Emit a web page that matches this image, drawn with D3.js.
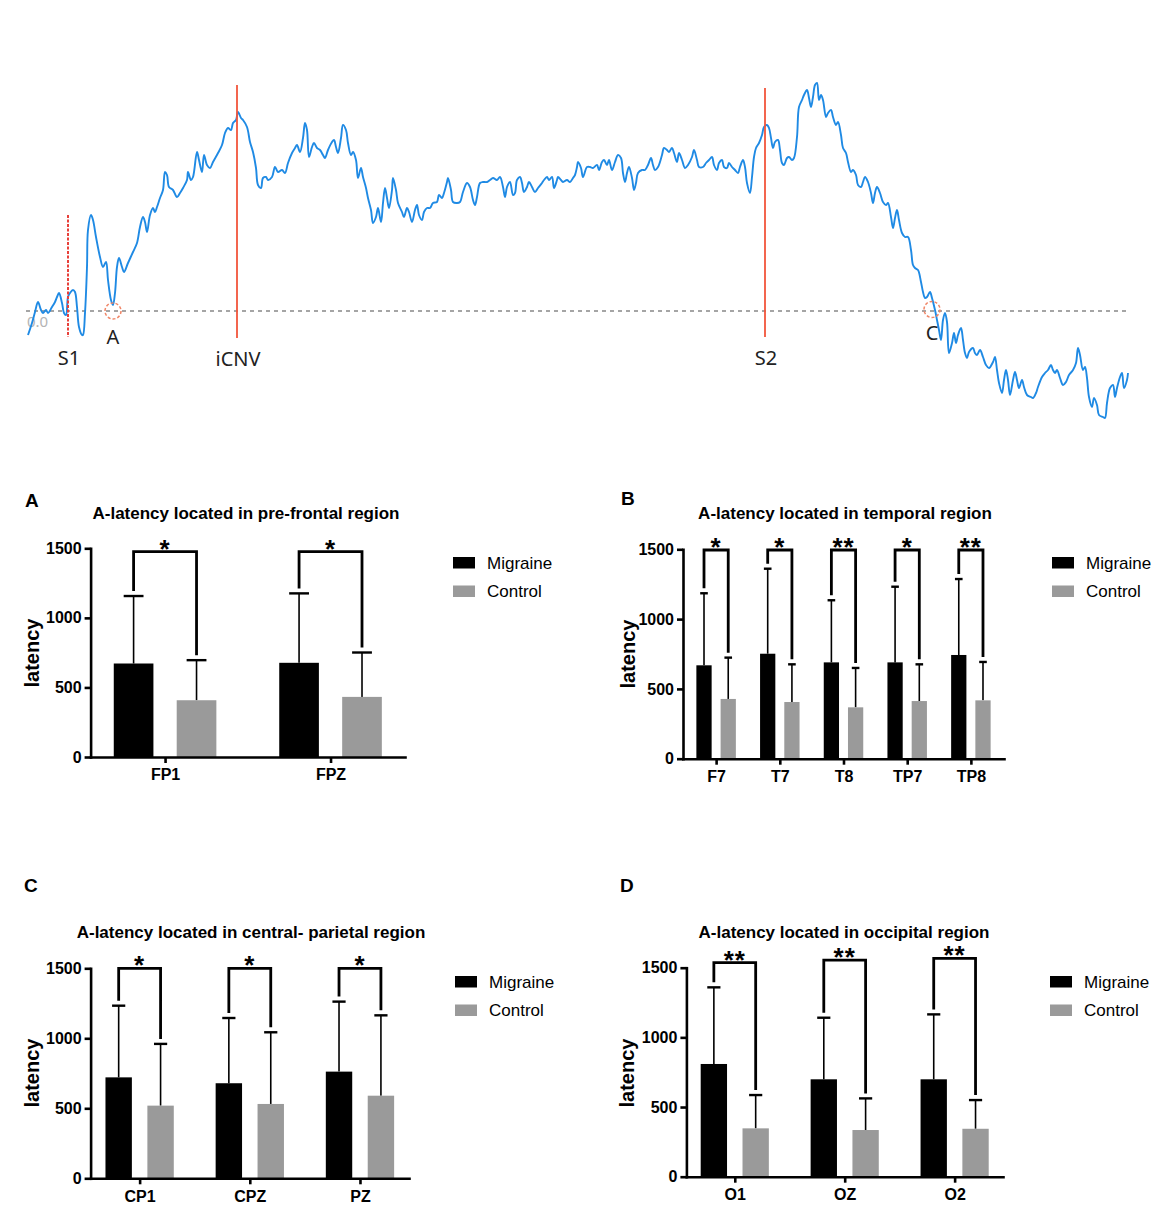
<!DOCTYPE html>
<html>
<head>
<meta charset="utf-8">
<script src="https://cdn.jsdelivr.net/npm/d3@7"></script>
<style>
body { margin: 0; background: #fff; }
svg { display: block; }
</style>
</head>
<body>
<svg id="fig" width="1170" height="1220"></svg>
<script>

// ERP trace : [time (samples from start), amplitude (rel. to baseline)]
var erpTrace = [
[0,-24],[4,-12],[7,-1],[10,9],[13,1],[15,-2],[18,1],[20,-2],[24,4],[27,9],
[29,14],[31,18],[34,8],[36,-2],[38,-4],[40,14],[42,18],[45,21],[47,19],[49,4],
[51,-16],[54,-24],[55,-24],[57,-2],[59,44],[60,81],[63,96],[65,91],[68,74],[72,54],
[75,44],[78,49],[80,31],[83,11],[85,6],[87,18],[89,44],[91,53],[94,44],[96,39],
[100,48],[105,59],[109,68],[112,84],[115,94],[117,89],[119,79],[122,96],[125,103],[127,99],
[129,104],[132,113],[135,121],[137,139],[139,136],[141,124],[145,121],[149,114],[152,118],[155,123],
[159,131],[160,139],[163,131],[165,134],[169,159],[171,151],[174,139],[176,156],[179,146],[182,143],
[185,149],[190,158],[194,166],[197,178],[200,183],[203,181],[205,188],[208,191],[210,199],[213,193],
[215,191],[219,184],[222,169],[225,159],[228,143],[230,126],[233,123],[235,133],[238,134],[240,131],
[244,134],[247,144],[250,139],[254,141],[257,138],[260,148],[264,158],[267,163],[269,166],[272,159],
[275,173],[277,188],[279,181],[281,154],[284,164],[286,168],[289,163],[292,161],[295,156],[297,153],
[300,161],[304,169],[306,171],[308,164],[310,158],[313,173],[315,186],[318,181],[320,168],[323,156],
[325,159],[328,151],[330,133],[333,143],[335,134],[338,123],[340,113],[343,101],[345,88],[348,94],
[350,103],[353,89],[355,108],[357,123],[359,113],[361,103],[364,121],[365,133],[368,121],[370,108],
[374,99],[376,94],[379,103],[381,99],[384,89],[387,101],[389,106],[391,96],[394,91],[396,99],
[399,103],[402,103],[405,108],[409,109],[411,116],[414,113],[416,118],[419,129],[420,133],[423,121],
[425,109],[429,108],[432,109],[435,119],[439,128],[442,124],[445,111],[447,106],[449,114],[452,128],
[455,129],[459,129],[462,131],[465,133],[469,131],[472,134],[475,124],[477,114],[479,124],[482,129],
[485,116],[487,118],[489,131],[492,134],[494,128],[496,119],[499,124],[501,129],[504,124],[507,119],
[510,123],[514,128],[516,131],[519,134],[521,131],[524,134],[526,123],[529,131],[530,134],[533,131],
[535,129],[539,131],[542,129],[545,133],[547,136],[549,144],[550,149],[553,143],[555,134],[559,144],
[562,144],[565,143],[569,146],[571,141],[574,149],[576,151],[579,146],[581,151],[584,141],[587,149],
[590,156],[593,153],[595,138],[597,129],[599,138],[601,144],[604,133],[606,121],[608,128],[610,138],
[614,141],[617,141],[620,146],[623,153],[625,146],[627,141],[630,144],[634,156],[636,163],[639,161],
[641,159],[644,163],[646,158],[649,149],[651,158],[654,151],[657,143],[660,146],[664,154],[666,161],
[669,151],[671,144],[675,144],[678,148],[681,151],[684,154],[686,146],[689,141],[691,148],[694,151],
[696,144],[699,143],[701,148],[704,144],[707,141],[710,138],[712,144],[715,151],[717,144],[719,128],
[722,118],[724,134],[726,154],[728,163],[731,168],[734,176],[736,184],[739,186],[741,183],[743,173],
[745,163],[747,169],[750,171],[752,161],[754,148],[756,146],[759,153],[761,154],[764,151],[766,153],
[769,174],[771,204],[774,211],[776,216],[779,221],[781,213],[783,204],[785,214],[787,226],[789,228],
[791,211],[793,216],[795,211],[798,194],[800,198],[803,201],[805,194],[808,186],[810,189],[813,176],
[815,163],[818,158],[820,149],[823,139],[825,141],[828,136],[830,126],[833,124],[835,129],[837,134],
[840,129],[843,118],[845,108],[847,118],[849,124],[852,118],[855,109],[858,106],[860,108],[863,94],
[865,83],[867,93],[869,101],[871,91],[874,78],[877,74],[880,74],[883,61],[885,46],[887,43],
[890,41],[893,29],[895,19],[897,13],[899,14],[902,19],[904,13],[907,1],[909,-9],[911,-19],
[913,-29],[915,-9],[917,-2],[919,-11],[921,-42],[924,-32],[926,-22],[928,-32],[930,-24],[933,-17],
[935,-29],[937,-42],[939,-47],[941,-41],[945,-37],[947,-42],[949,-44],[952,-39],[955,-46],[958,-54],
[961,-57],[965,-51],[967,-46],[969,-59],[971,-72],[974,-82],[976,-69],[978,-59],[980,-69],[982,-84],
[985,-69],[987,-61],[989,-69],[991,-77],[994,-69],[996,-76],[999,-84],[1003,-86],[1005,-87],[1008,-82],
[1010,-76],[1014,-66],[1017,-62],[1020,-59],[1023,-54],[1025,-59],[1027,-62],[1029,-59],[1032,-67],[1035,-74],
[1038,-71],[1041,-64],[1045,-59],[1048,-52],[1050,-37],[1052,-44],[1055,-59],[1057,-56],[1059,-67],[1061,-86],
[1064,-96],[1066,-87],[1069,-94],[1071,-104],[1075,-106],[1077,-107],[1079,-92],[1082,-77],[1085,-74],[1087,-86],
[1089,-77],[1092,-66],[1094,-62],[1096,-77],[1099,-69],[1100,-62]
];

var markerNames = ["S1", "iCNV", "S2"];
var markerT = [40, 209, 737];
var markerTop = [96, 226, 223];
var markerBottom = [-26, -27, -26];

var pointNames = ["A", "C"];
var pointT = [85, 904];

var groups = ["Migraine", "Control"];
var yTicks = [0, 500, 1000, 1500];

// A - pre-frontal
var catsA = ["FP1", "FPZ"];
var migA = [672, 677];
var migSdA = [485, 499];
var ctlA = [408, 432];
var ctlSdA = [288, 319];
var bracketA = [1476, 1476];
var starsA = ["*", "*"];

// B - temporal
var catsB = ["F7", "T7", "T8", "TP7", "TP8"];
var migB = [669, 752, 690, 690, 743];
var migSdB = [516, 609, 445, 542, 544];
var ctlB = [428, 406, 368, 413, 418];
var ctlSdB = [296, 270, 282, 263, 275];
var bracketB = [1495, 1495, 1495, 1495, 1495];
var starsB = ["*", "*", "**", "*", "**"];

// C - central-parietal
var catsC = ["CP1", "CPZ", "PZ"];
var migC = [721, 679, 762];
var migSdC = [512, 466, 500];
var ctlC = [519, 531, 590];
var ctlSdC = [441, 512, 574];
var bracketC = [1500, 1500, 1500];
var starsC = ["*", "*", "*"];

// D - occipital
var catsD = ["O1", "OZ", "O2"];
var migD = [809, 699, 699];
var migSdD = [550, 442, 466];
var ctlD = [347, 335, 344];
var ctlSdD = [239, 227, 206];
var bracketD = [1536, 1555, 1567];
var starsD = ["**", "**", "**"];

var colors = {"Migraine": "#000000", "Control": "#9a9a9a"};
var barFont = '"Liberation Sans", Arial, Helvetica, sans-serif';
var waveFont = '"Noto Sans", "Open Sans", sans-serif';

var svg = d3.select("#fig");
svg.append("rect").attr("width", 1170).attr("height", 1220).attr("fill", "#fff");

var xw = d3.scaleLinear().domain([0, 1100]).range([28, 1128]);
var yw = d3.scaleLinear().domain([0, 100]).range([311, 211]);

function draw_wave() {
	svg.append("line")
		.attr("x1", xw(-2)).attr("x2", xw(1100))
		.attr("y1", yw(0)).attr("y2", yw(0))
		.attr("stroke", "#888").attr("stroke-width", 1.4)
		.attr("stroke-dasharray", "4,4");
	svg.append("text")
		.attr("x", xw(-1)).attr("y", yw(0) + 16)
		.attr("font-family", waveFont).attr("font-size", 15)
		.attr("fill", "#b4b4b4")
		.text("0.0");

	var line = d3.line()
		.x(function(d) { return xw(d[0]); })
		.y(function(d) { return yw(d[1]); })
		.curve(d3.curveCatmullRom.alpha(0.5));
	svg.append("path")
		.datum(erpTrace)
		.attr("d", line)
		.attr("fill", "none")
		.attr("stroke", "#1f8ae4")
		.attr("stroke-width", 1.9)
		.attr("stroke-linejoin", "round");

	for (var i = 0; i < markerNames.length; i++) {
		var mx = xw(markerT[i]);
		var ml = svg.append("line")
			.attr("x1", mx).attr("x2", mx)
			.attr("y1", yw(markerTop[i])).attr("y2", yw(markerBottom[i]))
			.attr("stroke", "#f2553b")
			.attr("stroke-width", i == 0 ? 2 : 1.8);
		if (i == 0) {
			ml.attr("stroke-dasharray", "3,1.5").attr("stroke", "#e8403a");
		}
		svg.append("text")
			.attr("x", mx + 1).attr("y", yw(markerBottom[i]) + 28)
			.attr("text-anchor", "middle")
			.attr("font-family", waveFont).attr("font-size", 20)
			.attr("fill", "#222")
			.text(markerNames[i]);
	}

	var labelDy = [33, 29];
	for (var j = 0; j < pointNames.length; j++) {
		var px = xw(pointT[j]);
		svg.append("circle")
			.attr("cx", px).attr("cy", yw(0) - (j == 1 ? 1.5 : 0)).attr("r", 8)
			.attr("fill", "none")
			.attr("stroke", "#f08566").attr("stroke-width", 1.5)
			.attr("stroke-dasharray", "3,2");
		svg.append("text")
			.attr("x", px).attr("y", yw(0) + labelDy[j])
			.attr("text-anchor", "middle")
			.attr("font-family", waveFont).attr("font-size", 20)
			.attr("fill", "#222")
			.text(pointNames[j]);
	}
}

function draw_panel(p) {
	var x = d3.scalePoint().domain(p.cats).range([p.x0, p.x1]).padding(p.pad);
	var step = x.step();
	var xs = d3.scaleBand().domain(groups).range([-0.31 * step, 0.31 * step]).paddingInner(0.37);
	var y = d3.scaleLinear().domain([0, 1500]).range([p.y0, p.y1]);
	var bw = xs.bandwidth();
	var g = svg.append("g").attr("font-family", barFont);

	p.cats.forEach(function(c, i) {
		var vals = [p.mig[i], p.ctl[i]];
		var sds = [p.migSd[i], p.ctlSd[i]];
		var centers = [];
		groups.forEach(function(gr, k) {
			var bx = x(c) + xs(gr);
			var cx = bx + bw / 2;
			centers.push(cx);
			g.append("line")
				.attr("x1", cx).attr("x2", cx)
				.attr("y1", y(vals[k])).attr("y2", y(vals[k] + sds[k]))
				.attr("stroke", "#000").attr("stroke-width", 1.6);
			g.append("line")
				.attr("x1", cx - bw / 4).attr("x2", cx + bw / 4)
				.attr("y1", y(vals[k] + sds[k])).attr("y2", y(vals[k] + sds[k]))
				.attr("stroke", "#000").attr("stroke-width", 2.4);
			g.append("rect")
				.attr("x", bx).attr("y", y(vals[k]))
				.attr("width", bw).attr("height", y(0) - y(vals[k]))
				.attr("fill", colors[gr]);
		});
		// significance bracket
		var top = y(p.bracket[i]);
		g.append("path")
			.attr("d", "M" + centers[0] + "," + (y(vals[0] + sds[0]) - 5) +
				"V" + top + "H" + centers[1] + "V" + (y(vals[1] + sds[1]) - 5))
			.attr("fill", "none").attr("stroke", "#000")
			.attr("stroke-width", 2.8).attr("stroke-linejoin", "miter");
		g.append("text")
			.attr("x", (centers[0] + centers[1]) / 2).attr("y", top + 6)
			.attr("text-anchor", "middle")
			.attr("font-size", 26).attr("font-weight", "bold")
			.attr("letter-spacing", 1)
			.text(p.stars[i]);
	});

	var ya = d3.axisLeft(y).tickValues(yTicks).tickFormat(d3.format("d"))
		.tickSize(6).tickSizeOuter(0).tickPadding(3);
	var yg = g.append("g").attr("transform", "translate(" + p.x0 + ",0)").call(ya);
	var xa = d3.axisBottom(x).tickSize(6).tickSizeOuter(0).tickPadding(6);
	var xg = g.append("g").attr("transform", "translate(0," + p.y0 + ")").call(xa);
	[yg, xg].forEach(function(ag) {
		ag.attr("font-family", barFont).attr("font-size", 16).attr("font-weight", "bold");
		ag.select(".domain").attr("stroke-width", 2.6).attr("stroke-linecap", "square");
		ag.selectAll(".tick line").attr("stroke-width", 2.6);
	});

	g.append("text")
		.attr("x", p.titleX).attr("y", p.titleY)
		.attr("text-anchor", "middle")
		.attr("font-size", 17).attr("font-weight", "bold")
		.text(p.title);
	g.append("text")
		.attr("x", p.labelX).attr("y", p.labelY)
		.attr("font-size", 19).attr("font-weight", "bold")
		.text(p.label);
	g.append("text")
		.attr("transform", "translate(" + p.ylabX + "," + p.ylabY + ") rotate(-90)")
		.attr("text-anchor", "middle").attr("dy", ".35em")
		.attr("font-size", 20).attr("font-weight", "bold")
		.text("latency");

	groups.forEach(function(gr, k) {
		var ly = p.legY + k * 28.5;
		g.append("rect")
			.attr("x", p.legX).attr("y", ly)
			.attr("width", 22).attr("height", 11.5)
			.attr("fill", colors[gr]);
		g.append("text")
			.attr("x", p.legX + 34).attr("y", ly + 6)
			.attr("dy", ".35em")
			.attr("font-size", 17)
			.text(gr);
	});
}

draw_wave();

draw_panel({label: "A", labelX: 25, labelY: 507,
	title: "A-latency located in pre-frontal region", titleX: 246, titleY: 519,
	x0: 90.6, x1: 405, y0: 757, y1: 548.3, pad: 0.45,
	legX: 453, legY: 557, ylabX: 31.5, ylabY: 653,
	cats: catsA, mig: migA, migSd: migSdA, ctl: ctlA, ctlSd: ctlSdA, bracket: bracketA, stars: starsA});

draw_panel({label: "B", labelX: 621, labelY: 505,
	title: "A-latency located in temporal region", titleX: 845, titleY: 519,
	x0: 683, x1: 1004, y0: 758.7, y1: 549.3, pad: 0.52,
	legX: 1052, legY: 557, ylabX: 627.5, ylabY: 654,
	cats: catsB, mig: migB, migSd: migSdB, ctl: ctlB, ctlSd: ctlSdB, bracket: bracketB, stars: starsB});

draw_panel({label: "C", labelX: 24, labelY: 892,
	title: "A-latency located in central- parietal region", titleX: 251, titleY: 938,
	x0: 90.6, x1: 409, y0: 1178.3, y1: 968.3, pad: 0.445,
	legX: 455, legY: 976, ylabX: 31.5, ylabY: 1073,
	cats: catsC, mig: migC, migSd: migSdC, ctl: ctlC, ctlSd: ctlSdC, bracket: bracketC, stars: starsC});

draw_panel({label: "D", labelX: 620, labelY: 892,
	title: "A-latency located in occipital region", titleX: 844, titleY: 938,
	x0: 686.4, x1: 1003, y0: 1176.7, y1: 967.7, pad: 0.44,
	legX: 1050, legY: 976, ylabX: 627, ylabY: 1073,
	cats: catsD, mig: migD, migSd: migSdD, ctl: ctlD, ctlSd: ctlSdD, bracket: bracketD, stars: starsD});

</script>
</body>
</html>
